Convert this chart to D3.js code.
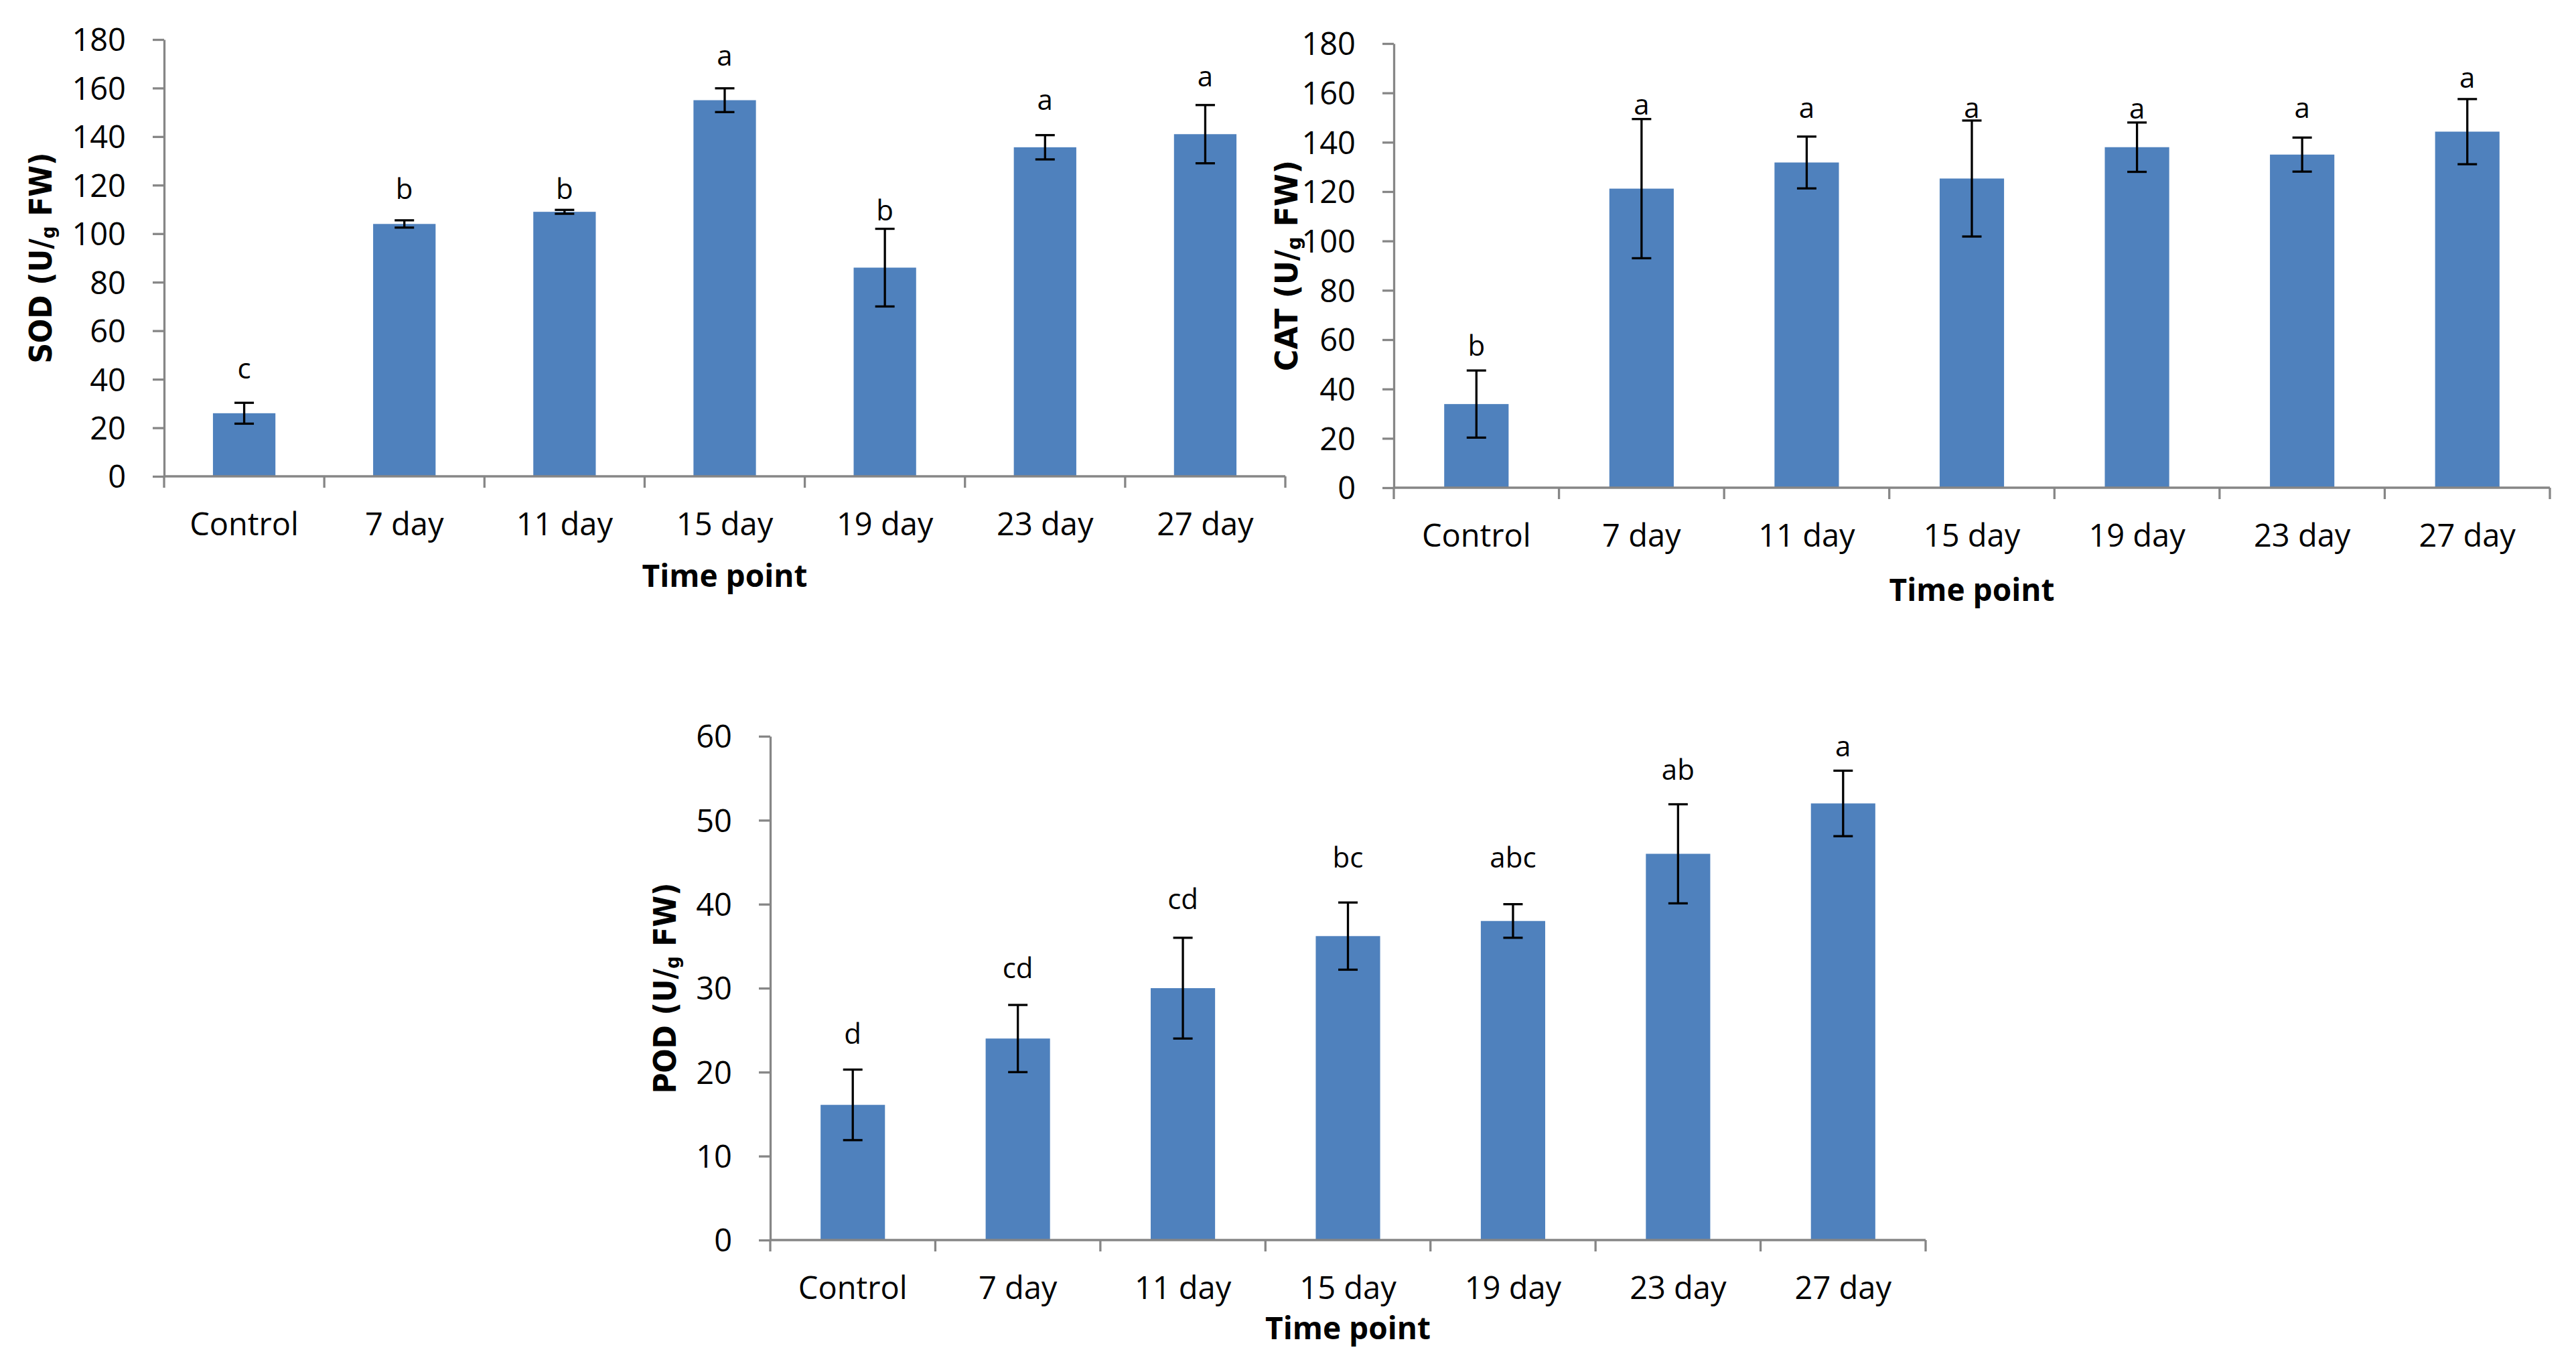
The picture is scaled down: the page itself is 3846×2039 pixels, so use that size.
<!DOCTYPE html>
<html>
<head>
<meta charset="utf-8">
<script src="https://cdn.jsdelivr.net/npm/d3@7"></script>
<style>
  html, body { margin: 0; padding: 0; background: #fff; }
  svg { display: block; }
</style>
</head>
<body>
<svg id="chart" width="3846" height="2039"></svg>
<script>
// ---------------- DATA ----------------
const categories = ["Control", "7 day", "11 day", "15 day", "19 day", "23 day", "27 day"];

const sodMean = [26, 104, 109, 155, 86, 135.6, 141];
const sodErr = [4.3, 1.5, 0.8, 4.9, 16, 5, 12];
const sodLetters = ["c", "b", "b", "a", "b", "a", "a"];
const sodLetterAt = [40.2, 114.2, 114.2, 169.1, 105.4, 150.9, 160.8];
const sodTicks = [0, 20, 40, 60, 80, 100, 120, 140, 160, 180];

const catMean = [33.9, 121.2, 131.8, 125.3, 138, 135, 144.3];
const catErr = [13.6, 28.2, 10.5, 23.5, 10, 6.9, 13.2];
const catLetters = ["b", "a", "a", "a", "a", "a", "a"];
const catLetterAt = [53.6, 151.1, 149.9, 149.9, 149.5, 149.9, 162.2];
const catTicks = [0, 20, 40, 60, 80, 100, 120, 140, 160, 180];

const podMean = [16.1, 24, 30, 36.2, 38, 46, 52];
const podErr = [4.2, 4, 6, 4, 2, 5.9, 3.9];
const podLetters = ["d", "cd", "cd", "bc", "abc", "ab", "a"];
const podLetterAt = [23.4, 31.2, 39.4, 44.4, 44.4, 54.8, 57.6];
const podTicks = [0, 10, 20, 30, 40, 50, 60];

const xTitle = "Time point";

// ---------------- LAYOUT / STYLE ----------------
const BAR = "#4F81BD";
const AXIS = "#868686";
const TXT = "#000000";
const tickFont = "'Open Sans', 'Liberation Sans', sans-serif";
const labelFont = "'DejaVu Sans', Verdana, sans-serif";

const panels = [
  { name: "SOD", mean: sodMean, err: sodErr, letters: sodLetters, letterAt: sodLetterAt, ticks: sodTicks,
    left: 245, right: 1919, top: 59, bottom: 711, ylabX: 60, titleY: 876 },
  { name: "CAT", mean: catMean, err: catErr, letters: catLetters, letterAt: catLetterAt, ticks: catTicks,
    left: 2081, right: 3807, top: 65, bottom: 728, ylabX: 1920, titleY: 897 },
  { name: "POD", mean: podMean, err: podErr, letters: podLetters, letterAt: podLetterAt, ticks: podTicks,
    left: 1150, right: 2875, top: 1099, bottom: 1851, ylabX: 992, titleY: 1999 }
];

const svg = d3.select("#chart");
svg.append("rect").attr("width", 3846).attr("height", 2039).attr("fill", "#fff");

function drawPanel(p) {
  const g = svg.append("g");
  const ticks = p.ticks;
  const y = d3.scaleLinear().domain([ticks[0], ticks[ticks.length - 1]]).range([p.bottom, p.top]);
  const x = d3.scaleBand().domain(categories).range([p.left, p.right])
    .paddingInner(0.61).paddingOuter(0.305);
  const step = x.step();
  const catStart = p.left;

  // bars
  g.selectAll("rect.bar").data(categories).join("rect")
    .attr("class", "bar")
    .attr("x", d => x(d))
    .attr("width", x.bandwidth())
    .attr("y", (d, i) => y(p.mean[i]))
    .attr("height", (d, i) => y(0) - y(p.mean[i]))
    .attr("fill", BAR);

  // y axis
  const yAxis = d3.axisLeft(y).tickValues(ticks).tickSize(17).tickPadding(40).tickSizeOuter(0);
  const ya = g.append("g").attr("transform", `translate(${p.left},0)`).call(yAxis);
  ya.select(".domain").attr("stroke", AXIS).attr("stroke-width", 3.3);
  ya.selectAll(".tick line").attr("stroke", AXIS).attr("stroke-width", 3.3);
  ya.selectAll(".tick text").attr("fill", TXT)
    .style("font-family", tickFont).style("font-size", "47px").attr("dy", "0.36em");

  // x axis line and boundary ticks
  g.append("line").attr("x1", p.left).attr("x2", p.right)
    .attr("y1", y(0)).attr("y2", y(0))
    .attr("stroke", AXIS).attr("stroke-width", 3.3);
  const bounds = d3.range(categories.length + 1).map(i => catStart + i * step);
  g.selectAll("line.bt").data(bounds).join("line")
    .attr("class", "bt")
    .attr("x1", d => d).attr("x2", d => d)
    .attr("y1", y(0)).attr("y2", y(0) + 17)
    .attr("stroke", AXIS).attr("stroke-width", 3.3);

  // category labels
  g.selectAll("text.cat").data(categories).join("text")
    .attr("class", "cat")
    .attr("x", d => x(d) + x.bandwidth() / 2)
    .attr("y", y(0) + 88)
    .attr("text-anchor", "middle")
    .attr("fill", TXT)
    .style("font-family", tickFont).style("font-size", "47px")
    .text(d => d);

  // error bars
  const cap = 14.5;
  const eb = g.selectAll("g.eb").data(categories).join("g").attr("class", "eb");
  eb.append("line")
    .attr("x1", d => x(d) + x.bandwidth() / 2).attr("x2", d => x(d) + x.bandwidth() / 2)
    .attr("y1", (d, i) => y(p.mean[i] + p.err[i])).attr("y2", (d, i) => y(p.mean[i] - p.err[i]))
    .attr("stroke", "#000").attr("stroke-width", 3.3);
  eb.append("line")
    .attr("x1", d => x(d) + x.bandwidth() / 2 - cap).attr("x2", d => x(d) + x.bandwidth() / 2 + cap)
    .attr("y1", (d, i) => y(p.mean[i] + p.err[i])).attr("y2", (d, i) => y(p.mean[i] + p.err[i]))
    .attr("stroke", "#000").attr("stroke-width", 3.3);
  eb.append("line")
    .attr("x1", d => x(d) + x.bandwidth() / 2 - cap).attr("x2", d => x(d) + x.bandwidth() / 2 + cap)
    .attr("y1", (d, i) => y(p.mean[i] - p.err[i])).attr("y2", (d, i) => y(p.mean[i] - p.err[i]))
    .attr("stroke", "#000").attr("stroke-width", 3.3);

  // significance letters
  g.selectAll("text.sig").data(categories).join("text")
    .attr("class", "sig")
    .attr("x", d => x(d) + x.bandwidth() / 2)
    .attr("y", (d, i) => y(p.letterAt[i]))
    .attr("text-anchor", "middle")
    .attr("fill", TXT)
    .style("font-family", tickFont).style("font-size", "42px")
    .text((d, i) => p.letters[i]);

  // x title
  g.append("text")
    .attr("x", (p.left + p.right) / 2)
    .attr("y", p.titleY)
    .attr("text-anchor", "middle")
    .attr("fill", TXT)
    .style("font-family", tickFont).style("font-size", "46px").style("font-weight", "bold")
    .text(xTitle);

  // y title
  const cy = (p.top + p.bottom) / 2;
  const yt = g.append("text")
    .attr("transform", `translate(${p.ylabX + 17},${cy}) rotate(-90)`)
    .attr("text-anchor", "middle")
    .attr("fill", TXT)
    .style("font-family", labelFont).style("font-size", "47px").style("font-weight", "bold")
    .attr("textLength", 315).attr("lengthAdjust", "spacingAndGlyphs");
  yt.append("tspan").text(p.name + " (U/");
  yt.append("tspan").attr("dy", 5).style("font-size", "29px").text("g");
  yt.append("tspan").attr("dy", -5).text(" FW)");
}

panels.forEach(drawPanel);
</script>
</body>
</html>
